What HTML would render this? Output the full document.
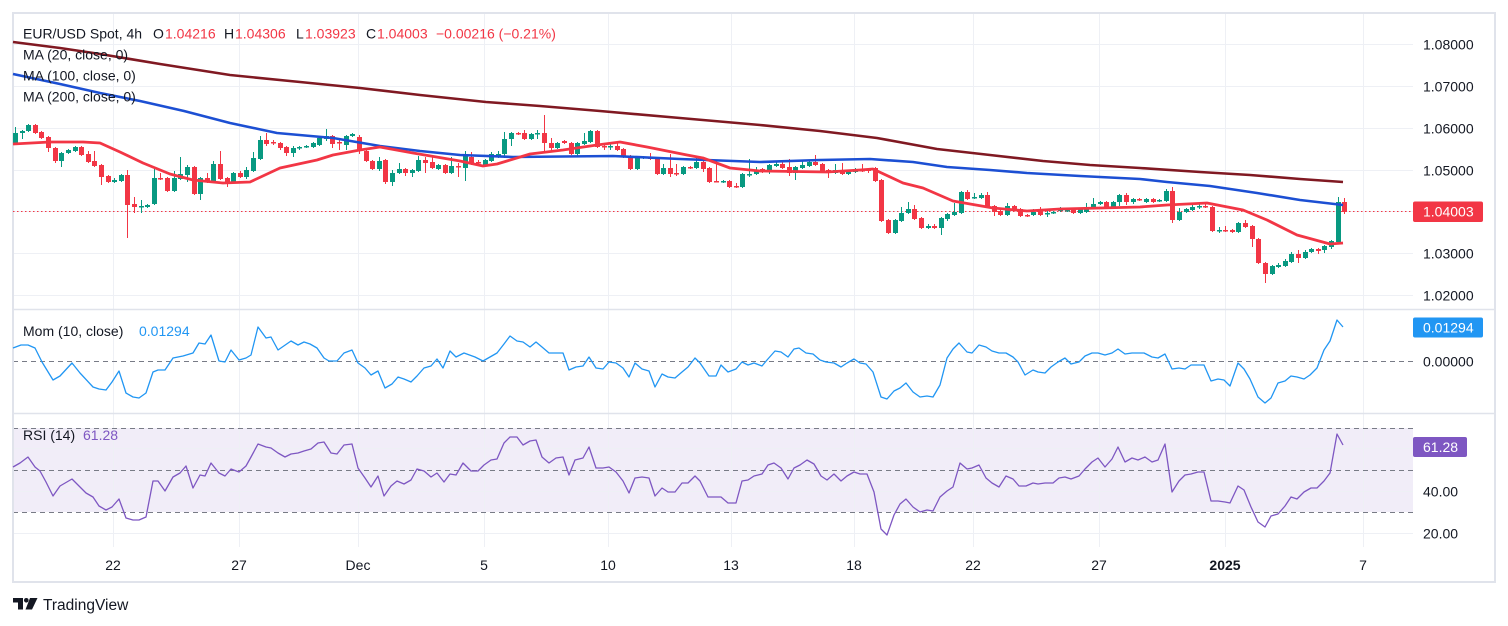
<!DOCTYPE html>
<html>
<head>
<meta charset="utf-8">
<style>
html,body{margin:0;padding:0;background:#fff;overflow:hidden;}
svg{display:block;font-family:"Liberation Sans",sans-serif;}
</style>
</head>
<body>
<svg id="c" width="1508" height="626" viewBox="0 0 1508 626" xmlns="http://www.w3.org/2000/svg">
<rect x="0" y="0" width="1508" height="626" fill="#ffffff"/>
<!-- RSI band -->
<rect x="13" y="428" width="1400" height="84" fill="#7e57c2" fill-opacity="0.11"/>
<!-- vertical grid -->
<g stroke="#eef0f5" stroke-width="1">
<line x1="113.5" y1="13" x2="113.5" y2="547"/>
<line x1="239.5" y1="13" x2="239.5" y2="547"/>
<line x1="358.5" y1="13" x2="358.5" y2="547"/>
<line x1="484.5" y1="13" x2="484.5" y2="547"/>
<line x1="608.5" y1="13" x2="608.5" y2="547"/>
<line x1="731.5" y1="13" x2="731.5" y2="547"/>
<line x1="854.5" y1="13" x2="854.5" y2="547"/>
<line x1="973.5" y1="13" x2="973.5" y2="547"/>
<line x1="1099.5" y1="13" x2="1099.5" y2="547"/>
<line x1="1225.5" y1="13" x2="1225.5" y2="547"/>
<line x1="1363.5" y1="13" x2="1363.5" y2="547"/>
</g>
<!-- horizontal grid -->
<g stroke="#eef0f5" stroke-width="1">
<line x1="13" y1="44.5" x2="1413" y2="44.5"/>
<line x1="13" y1="86.5" x2="1413" y2="86.5"/>
<line x1="13" y1="128.5" x2="1413" y2="128.5"/>
<line x1="13" y1="170.5" x2="1413" y2="170.5"/>
<line x1="13" y1="211.5" x2="1413" y2="211.5"/>
<line x1="13" y1="253.5" x2="1413" y2="253.5"/>
<line x1="13" y1="295.5" x2="1413" y2="295.5"/>
<line x1="13" y1="448.5" x2="1413" y2="448.5"/>
<line x1="13" y1="491.5" x2="1413" y2="491.5"/>
<line x1="13" y1="533.5" x2="1413" y2="533.5"/>
</g>
<!-- dashed levels -->
<g stroke="#787b86" stroke-width="1" stroke-dasharray="5 4">
<line x1="13" y1="361.5" x2="1413" y2="361.5"/>
<line x1="13" y1="428.5" x2="1413" y2="428.5"/>
<line x1="13" y1="470.5" x2="1413" y2="470.5"/>
<line x1="13" y1="512.5" x2="1413" y2="512.5"/>
</g>
<!-- pane separators -->
<g stroke="#e0e3eb" stroke-width="1.5">
<line x1="12" y1="309.5" x2="1496" y2="309.5"/>
<line x1="12" y1="413.5" x2="1496" y2="413.5"/>
</g>
<!-- frame -->
<rect x="13" y="13" width="1482" height="569" fill="none" stroke="#e0e3eb" stroke-width="2"/>

<!-- price dotted line -->
<line x1="13" y1="211.5" x2="1413" y2="211.5" stroke="#f23645" stroke-width="1" stroke-dasharray="1.5 2.5"/>

<g id="candles"></g>

<!-- MAs -->
<polyline fill="none" stroke="#801922" stroke-width="2.6" stroke-linejoin="round" points="13,42 60,48 100,54 160,64 230,75 300,82 360,88 420,95 486,102 540,106 600,111 680,118 760,125 820,131 877,138 937,149 990,155 1043,161 1090,165 1140,168 1200,172 1250,175 1300,179 1343,182"/>
<polyline fill="none" stroke="#1c4fd3" stroke-width="2.6" stroke-linejoin="round" points="13,74 60,84 100,93 140,101 184,111 230,123 277,133 333,138 380,146 420,151 460,155 513,157 613,156 680,159 760,162 820,160 870,159 913,162 947,167 990,170 1027,173 1080,176 1140,179 1167,182 1210,186 1257,193 1300,200 1343,205"/>
<polyline fill="none" stroke="#f23645" stroke-width="2.8" stroke-linejoin="round" points="13,144 50,142 83,142 100,143 120,152 143,163 170,174 193,180 223,183 250,182 280,168 317,160 333,155 360,150 380,147 413,153 460,161 483,166 497,164 530,154 563,150 597,145 620,142 647,147 687,155 703,158 730,168 760,171 827,172 860,170 873,169 903,183 923,188 953,201 993,208 1027,211 1060,209 1100,208 1140,207 1167,205 1207,203 1243,210 1267,220 1297,235 1330,244 1343,243"/>

<!-- Momentum -->
<polyline fill="none" stroke="#2196f3" stroke-width="1.3" stroke-linejoin="round" points="13,348 21,345 28,345 35,348 42,362 53,380 60,376 72,363 80,373 93,387 99,389 106,390 112,382 119,371 126,393 133,397 139,398 146,393 153,372 158,370 165,370 173,358 183,356 193,353 199,343 205,344 211,335 219,361 225,362 231,350 239,360 246,358 251,355 258,327 266,338 271,337 278,350 291,341 298,345 304,342 310,344 317,348 324,358 329,361 337,361 344,353 352,350 358,363 365,368 371,375 378,371 385,388 392,384 398,377 404,379 411,382 417,376 424,368 431,366 437,359 443,368 450,351 456,357 464,353 475,357 483,361 490,357 497,353 504,344 510,336 517,341 523,342 530,347 536,342 542,347 549,353 563,353 569,370 576,367 583,366 589,357 596,368 603,369 609,362 616,363 623,368 629,377 635,363 642,369 649,371 655,387 662,374 668,377 675,378 682,372 688,367 695,358 700,363 709,376 716,376 721,365 728,372 736,369 742,362 748,365 754,363 762,366 767,360 775,351 781,352 788,357 794,349 799,348 806,353 813,354 820,360 826,362 834,363 841,367 847,363 854,359 860,363 866,364 873,372 881,397 887,399 894,391 900,388 906,383 913,392 920,397 927,396 933,397 940,385 947,358 953,349 959,343 967,352 972,353 979,345 986,347 992,351 999,353 1006,353 1013,357 1018,362 1025,375 1033,370 1038,372 1045,373 1051,367 1058,362 1065,358 1071,364 1079,362 1085,356 1092,353 1098,353 1105,355 1112,353 1118,349 1125,354 1132,353 1144,353 1152,357 1158,358 1165,354 1172,369 1179,368 1185,369 1191,365 1204,365 1211,381 1218,379 1224,380 1230,386 1238,363 1244,369 1250,379 1258,397 1265,403 1271,398 1278,383 1285,381 1291,376 1297,377 1304,379 1310,375 1317,368 1324,350 1330,341 1337,320 1343,327"/>

<!-- RSI -->
<polyline fill="none" stroke="#7e57c2" stroke-width="1.3" stroke-linejoin="round" points="13,467 20,463 28,457 35,467 40,471 46,482 53,496 60,486 72,479 79,486 86,493 93,497 99,506 106,510 112,507 119,499 126,518 133,520 139,520 146,517 153,481 158,481 165,491 173,477 180,473 186,466 193,488 200,475 205,476 211,463 219,473 225,476 231,469 239,472 246,466 251,457 258,444 266,447 271,448 278,453 285,457 291,454 298,453 304,451 311,449 318,443 324,442 331,453 337,454 344,445 352,444 358,468 365,478 371,487 378,476 384,496 391,486 397,481 404,484 411,480 417,469 424,471 431,477 437,473 444,482 450,474 456,475 463,463 471,471 478,471 484,465 491,460 497,459 504,443 510,437 517,437 523,445 530,441 536,440 542,457 549,463 556,458 563,457 569,475 575,460 583,458 589,447 596,468 603,468 609,467 616,472 623,481 629,493 635,478 642,477 649,478 655,496 662,488 668,492 675,492 682,483 688,483 695,476 700,481 708,497 715,497 721,497 728,503 736,503 742,481 748,480 754,476 762,474 768,465 774,463 781,468 788,479 794,468 800,465 807,460 814,464 821,476 827,480 834,474 841,481 847,476 854,472 860,474 867,474 874,492 881,529 887,535 894,515 900,504 906,499 913,507 920,512 927,510 933,511 940,497 947,491 953,487 960,463 967,469 972,468 979,465 986,478 992,483 999,487 1006,476 1013,479 1019,486 1026,486 1033,483 1038,484 1045,483 1053,483 1059,478 1065,477 1071,479 1079,476 1085,469 1092,462 1098,458 1105,467 1112,459 1118,447 1125,462 1132,458 1138,460 1145,457 1152,462 1158,460 1165,444 1172,492 1179,481 1185,475 1191,474 1198,472 1204,472 1211,501 1218,501 1225,502 1230,503 1238,486 1244,490 1251,507 1258,522 1265,527 1271,516 1278,514 1285,506 1291,497 1297,499 1304,492 1311,488 1317,488 1324,481 1330,473 1337,434 1343,445"/>

<!-- Legend -->
<g font-size="14" fill="#131722">
<text x="23" y="38.5">EUR/USD Spot, 4h</text>
<text x="153" y="38.5">O</text><text x="165" y="38.5" fill="#f23645">1.04216</text>
<text x="224" y="38.5">H</text><text x="235" y="38.5" fill="#f23645">1.04306</text>
<text x="296" y="38.5">L</text><text x="305" y="38.5" fill="#f23645">1.03923</text>
<text x="366" y="38.5">C</text><text x="377" y="38.5" fill="#f23645">1.04003</text>
<text x="436" y="38.5" fill="#f23645">−0.00216 (−0.21%)</text>
<text x="23" y="59.5">MA (20, close, 0)</text>
<text x="23" y="80.5">MA (100, close, 0)</text>
<text x="23" y="101.5">MA (200, close, 0)</text>
<text x="23" y="336">Mom (10, close)</text><text x="139" y="336" fill="#2196f3">0.01294</text>
<text x="23" y="440">RSI (14)</text><text x="83" y="440" fill="#7e57c2">61.28</text>
</g>

<!-- Price axis -->
<g font-size="14" fill="#131722">
<text x="1423" y="49.5">1.08000</text>
<text x="1423" y="91.5">1.07000</text>
<text x="1423" y="133.5">1.06000</text>
<text x="1423" y="175.5">1.05000</text>
<text x="1423" y="258.5">1.03000</text>
<text x="1423" y="300.5">1.02000</text>
<text x="1423" y="366.5">0.00000</text>
<text x="1423" y="496.5">40.00</text>
<text x="1423" y="538.5">20.00</text>
</g>
<rect x="1413" y="201.5" width="70" height="20.5" rx="2" fill="#f23645"/>
<text x="1423" y="216.5" font-size="14" fill="#ffffff">1.04003</text>
<rect x="1413" y="317.5" width="70" height="20" rx="2" fill="#2196f3"/>
<text x="1423" y="332.5" font-size="14" fill="#ffffff">0.01294</text>
<rect x="1413" y="437" width="54" height="20" rx="2" fill="#7e57c2"/>
<text x="1423" y="452" font-size="14" fill="#ffffff">61.28</text>

<!-- Time axis -->
<g font-size="14" fill="#131722" text-anchor="middle">
<text x="113" y="570">22</text>
<text x="239" y="570">27</text>
<text x="358" y="570">Dec</text>
<text x="484" y="570">5</text>
<text x="608" y="570">10</text>
<text x="731" y="570">13</text>
<text x="854" y="570">18</text>
<text x="973" y="570">22</text>
<text x="1099" y="570">27</text>
<text x="1225" y="570" font-weight="bold">2025</text>
<text x="1363" y="570">7</text>
</g>

<!-- TradingView logo -->
<g fill="#131722">
<path d="M13 598 H23 V609.5 H18 V602.5 H13 Z"/>
<circle cx="26.3" cy="600.3" r="2.3"/>
<path d="M30 598 H37.5 L32 609.5 H25.5 Z"/>
<text x="43" y="610" font-size="15.5">TradingView</text>
</g>
</svg>
<script>
(function(){
var C=[
[1,133,145,127,145],[1,131,133,130,139],[1,125,131,124,132],[0,125,133,124,134],[0,132,138,131,139],[0,137,148,136,152],[0,148,161,147,163],[1,153,161,152,167],[1,150,153,149,154],[1,147,151,146,152],
[0,147,155,146,156],[0,154,162,151,163],[0,161,166,151,167],[0,165,177,164,185],[0,176,182,175,183],[1,180,182,178,183],[1,175,181,174,182],[0,175,205,170,238],[0,204,207,197,213],[1,206,207,200,213],
[1,205,207,204,208],[1,178,204,168,205],[0,178,179,173,180],[0,178,191,177,192],[1,178,191,171,192],[1,174,179,157,180],[1,167,175,165,182],[0,167,194,166,195],[1,178,194,177,200],[0,178,182,173,183],
[1,164,182,161,183],[0,164,179,151,180],[0,178,182,177,187],[1,173,182,172,183],[0,173,177,171,178],[1,170,177,167,179],[1,158,171,152,172],[1,140,159,136,160],[0,140,144,133,146],[0,142,143,140,145],
[0,143,148,142,150],[0,147,153,146,156],[1,148,153,146,157],[1,147,148,146,150],[1,146,147,145,148],[1,143,147,142,148],[1,138,145,137,146],[1,136,139,129,141],[0,136,144,135,148],[0,142,143,140,150],
[1,136,145,135,150],[1,134,136,133,137],[0,137,150,135,154],[0,151,161,150,162],[0,161,169,160,170],[1,161,169,157,171],
[0,160,182,159,184],[1,173,182,170,186],[1,169,173,163,174],[0,169,173,168,176],[1,170,173,169,177],[1,160,171,156,172],[0,160,163,157,173],[0,162,168,157,169],[1,165,169,164,170],[0,165,173,164,174],
[1,166,173,157,174],[0,166,167,163,177],[1,156,168,151,181],[0,157,164,152,165],[0,162,163,160,165],[1,160,166,159,167],[1,154,161,152,162],[1,154,155,151,158],[1,139,154,132,158],[1,133,139,132,146],
[0,133,134,132,135],[0,133,139,130,140],[1,134,139,133,140],[1,133,134,130,139],[0,133,143,115,151],[0,143,148,138,152],[1,143,148,142,149],[0,141,143,140,144],[0,143,154,142,155],[1,143,154,142,156],
[1,141,144,133,145],[1,131,142,130,143],[0,131,147,130,148],[0,146,147,143,150],[1,146,147,143,150],[0,146,150,142,151],[0,149,157,148,158],[0,156,169,155,170],[1,157,169,156,170],[1,157,158,156,159],
[0,157,159,153,160],[0,158,174,157,175],[1,168,174,164,175],[0,168,174,154,177],[0,173,174,164,176],[1,167,174,166,175],[0,167,168,166,169],[1,162,168,157,169],[0,162,169,161,172],[0,168,182,167,183],
[0,181,182,161,182],[1,181,182,180,183],[0,181,187,180,188],[0,186,187,183,188],[1,174,187,173,188],[1,174,175,159,177],[1,171,174,167,175],
[0,169,172,168,173],[1,165,170,164,174],[1,164,166,161,167],[0,164,168,161,169],[0,167,173,159,176],[1,167,173,166,180],[1,165,168,161,169],[1,162,166,161,167],[0,162,165,155,166],[0,164,171,163,172],
[0,170,173,169,178],[1,170,173,164,174],[0,170,174,163,175],[1,172,174,171,175],[1,169,172,168,173],[0,170,171,164,172],[0,169,171,168,173],[0,168,181,167,182],[0,180,221,179,222],[0,220,233,219,234],
[1,220,233,219,234],[1,213,221,207,222],[1,209,213,202,214],[0,209,219,205,220],[0,218,228,217,229],[1,226,228,224,229],[0,226,228,224,229],[1,218,228,217,235],[1,214,219,213,221],[1,212,215,203,216],
[1,192,213,191,214],[0,192,199,190,200],[1,197,198,193,199],[1,195,198,193,199],[0,195,207,192,208],[0,206,212,205,216],[0,211,215,210,216],[1,206,215,203,216],[0,206,209,205,210],[0,209,216,208,217],
[0,215,216,214,217],[1,212,215,209,216],[0,211,215,207,216],[1,213,214,210,217],[1,212,213,211,214],[1,208,211,207,212],[1,210,211,209,212],[0,210,213,209,214],[1,209,213,208,214],[1,207,212,203,213],
[1,204,208,198,209],[1,202,204,201,205],[0,202,207,201,208],[1,202,207,201,208],[1,195,202,194,206],[0,195,202,193,205],[1,199,202,198,204],[0,199,200,198,201],
[1,199,202,198,203],[0,199,202,198,203],[1,200,201,199,202],[1,191,201,189,202],[0,191,220,187,223],[1,212,220,208,221],[1,209,212,208,213],[1,207,210,205,211],[1,206,207,203,209],[0,206,207,202,208],
[0,207,231,206,232],[1,230,231,227,233],[0,230,231,226,232],[0,230,232,229,233],[1,223,232,222,233],[0,223,227,220,228],[0,226,239,225,247],[0,239,263,238,264],[0,263,274,262,283],[1,266,274,265,275],
[1,265,267,263,268],[1,261,266,259,267],[1,254,262,252,263],[0,254,258,250,263],[1,252,258,250,259],[1,249,252,248,253],[0,249,251,248,254],[1,246,250,245,253],[1,241,247,240,249],[1,202,242,197,243],
[0,202,212,198,214]
];
var NS="http://www.w3.org/2000/svg";
var g=document.getElementById("candles");
var n=C.length, x0=15, x1=1344.3, step=(x1-x0)/(n-1);
for(var i=0;i<n;i++){
  var d=C[i], col=d[0]?"#089981":"#f23645";
  var cx=Math.round(x0+i*step);
  var w=document.createElementNS(NS,"rect");
  w.setAttribute("x",cx);w.setAttribute("y",d[3]);w.setAttribute("width",1);
  w.setAttribute("height",Math.max(1,d[4]-d[3]));w.setAttribute("fill",col);
  g.appendChild(w);
  var b=document.createElementNS(NS,"rect");
  b.setAttribute("x",cx-2);b.setAttribute("y",d[1]);b.setAttribute("width",5);
  b.setAttribute("height",Math.max(1.5,d[2]-d[1]));b.setAttribute("fill",col);
  g.appendChild(b);
}
})();
</script>
</body>
</html>
